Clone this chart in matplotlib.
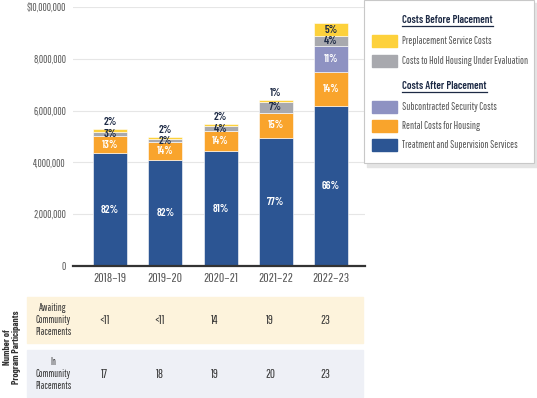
import matplotlib
matplotlib.use("Agg")
import matplotlib.pyplot as plt
from matplotlib.patches import Rectangle
from matplotlib.lines import Line2D
from matplotlib.transforms import blended_transform_factory

plt.rcParams["font.family"] = ["Pathway Gothic One", "DejaVu Sans"]
BOLD = ["Barlow Condensed", "DejaVu Sans"]

# data (values in millions of dollars)
years = ["2018–19", "2019–20", "2020–21", "2021–22", "2022–23"]
treatment = [4.35, 4.08, 4.44, 4.95, 6.18]
rental = [0.68, 0.69, 0.76, 0.95, 1.30]
security = [0, 0, 0, 0, 1.00]
hold_housing = [0.16, 0.12, 0.21, 0.44, 0.40]
preplacement = [0.09, 0.08, 0.09, 0.08, 0.49]

pct_treatment = ["82%", "82%", "81%", "77%", "66%"]
pct_rental = ["13%", "14%", "14%", "15%", "14%"]
pct_security = ["", "", "", "", "11%"]
pct_hold = ["3%", "2%", "4%", "7%", "4%"]
pct_prep = ["2%", "2%", "2%", "1%", "5%"]

awaiting = ["<11", "<11", "14", "19", "23"]
in_placement = ["17", "18", "19", "20", "23"]

BLUE = "#2c5593"
ORANGE = "#f9a42c"
PURPLE = "#8e92c2"
GRAY = "#a8a9ae"
YELLOW = "#fdd13b"
NAVY = "#1d2a45"
TXT = "#555555"

W, H = 537, 398
fig = plt.figure(figsize=(W / 100, H / 100), dpi=100)


def fx(px):
    return px / W


def fy(py):
    return 1 - py / H


ax = fig.add_axes([fx(73), fy(266), fx(365) - fx(73), fy(7) - fy(266)])
x = list(range(len(years)))
bw = 0.615

series = [
    (treatment, BLUE, pct_treatment, "white"),
    (rental, ORANGE, pct_rental, "white"),
    (security, PURPLE, pct_security, "white"),
    (hold_housing, GRAY, pct_hold, NAVY),
    (preplacement, YELLOW, pct_prep, NAVY),
]
bottom = [0.0] * len(years)
for vals, col, labels, tcol in series:
    ax.bar(x, vals, bw, bottom=bottom, color=col, edgecolor="white", linewidth=0.4, zorder=3)
    for i, (v, b, lab) in enumerate(zip(vals, bottom, labels)):
        if not lab:
            continue
        if col == YELLOW and v < 0.3:
            ax.annotate(lab, (i, b + v), xytext=(0, 5), textcoords="offset points",
                        ha="center", va="center", fontsize=8, fontweight="semibold",
                        family=BOLD, color=tcol)
        else:
            ax.text(i, b + v / 2, lab, ha="center", va="center", fontsize=8,
                    fontweight="semibold", family=BOLD, color=tcol, zorder=4)
    bottom = [b + v for b, v in zip(bottom, vals)]

ax.set_xlim(-0.67, 4.615)
ax.set_ylim(0, 10)
ax.set_yticks([0, 2, 4, 6, 8, 10])
ax.set_yticklabels(["0", "2,000,000", "4,000,000", "6,000,000", "8,000,000", "$10,000,000"])
ax.set_xticks(x)
ax.set_xticklabels(years)
ax.tick_params(axis="y", length=0, pad=5, labelsize=7.5, labelcolor=TXT)
ax.tick_params(axis="x", length=0, pad=5, labelsize=9.5, labelcolor=TXT)
ax.grid(axis="y", color="#e6e6e6", linewidth=0.8, zorder=0)
for s in ["top", "right", "left"]:
    ax.spines[s].set_visible(False)
ax.spines["bottom"].set_color("#333333")
ax.spines["bottom"].set_linewidth(1.6)
ax.spines["bottom"].set_zorder(5)

# participant table below the chart
fig.patches.append(Rectangle((fx(27), fy(343)), fx(363) - fx(27), fy(297) - fy(343),
                             transform=fig.transFigure, color="#fdf3dc", zorder=0))
fig.patches.append(Rectangle((fx(27), fy(397)), fx(363) - fx(27), fy(350) - fy(397),
                             transform=fig.transFigure, color="#eef0f6", zorder=0))
fig.text(fx(53), fy(320), "Awaiting\nCommunity\nPlacements", ha="center", va="center",
         fontsize=7.2, color="#333333", linespacing=1.2, zorder=2)
fig.text(fx(53), fy(374), "In\nCommunity\nPlacements", ha="center", va="center",
         fontsize=7.2, color="#333333", linespacing=1.2, zorder=2)
fig.text(fx(12), fy(347), "Number of\nProgram Participants", rotation=90, ha="center",
         va="center", fontsize=6.8, fontweight="bold", family=BOLD, color="#333333",
         linespacing=1.1, zorder=2)
tr = blended_transform_factory(ax.transData, fig.transFigure)
for i in x:
    fig.text(i - 0.1, fy(321), awaiting[i], transform=tr, ha="center", va="center",
             fontsize=9, color="#333333", zorder=2)
    fig.text(i - 0.1, fy(375), in_placement[i], transform=tr, ha="center", va="center",
             fontsize=9, color="#333333", zorder=2)

# legend box
fig.patches.append(Rectangle((fx(367), fy(167)), fx(537) - fx(367), fy(3) - fy(167),
                             transform=fig.transFigure, color="#e4e4e4", zorder=8))
fig.patches.append(Rectangle((fx(364), fy(163)), fx(534) - fx(364), fy(0) - fy(163),
                             transform=fig.transFigure, facecolor="white",
                             edgecolor="#c8c8c8", linewidth=0.8, zorder=9))

legend_rows = [
    ("head", "Costs Before Placement", 20, None),
    ("item", "Preplacement Service Costs", 41, YELLOW),
    ("item", "Costs to Hold Housing Under Evaluation", 61, GRAY),
    ("head", "Costs After Placement", 86, None),
    ("item", "Subcontracted Security Costs", 107, PURPLE),
    ("item", "Rental Costs for Housing", 126, ORANGE),
    ("item", "Treatment and Supervision Services", 145, BLUE),
]
fig.canvas.draw()
for kind, label, py, col in legend_rows:
    if kind == "head":
        t = fig.text(fx(402), fy(py), label, ha="left", va="center", fontsize=7.7,
                     fontweight="semibold", family=BOLD, color=NAVY, zorder=10)
        bb = t.get_window_extent(renderer=fig.canvas.get_renderer())
        fig.lines.append(Line2D([fx(402), bb.x1 / W], [fy(py + 6), fy(py + 6)],
                                transform=fig.transFigure, color=NAVY, linewidth=0.9, zorder=10))
    else:
        fig.patches.append(Rectangle((fx(372), fy(py + 6)), fx(397) - fx(372), fy(py - 6) - fy(py + 6),
                                     transform=fig.transFigure, color=col, zorder=10))
        fig.text(fx(402), fy(py), label, ha="left", va="center", fontsize=7.6,
                 color=TXT, zorder=10)

fig.savefig("out.png", dpi=100)
